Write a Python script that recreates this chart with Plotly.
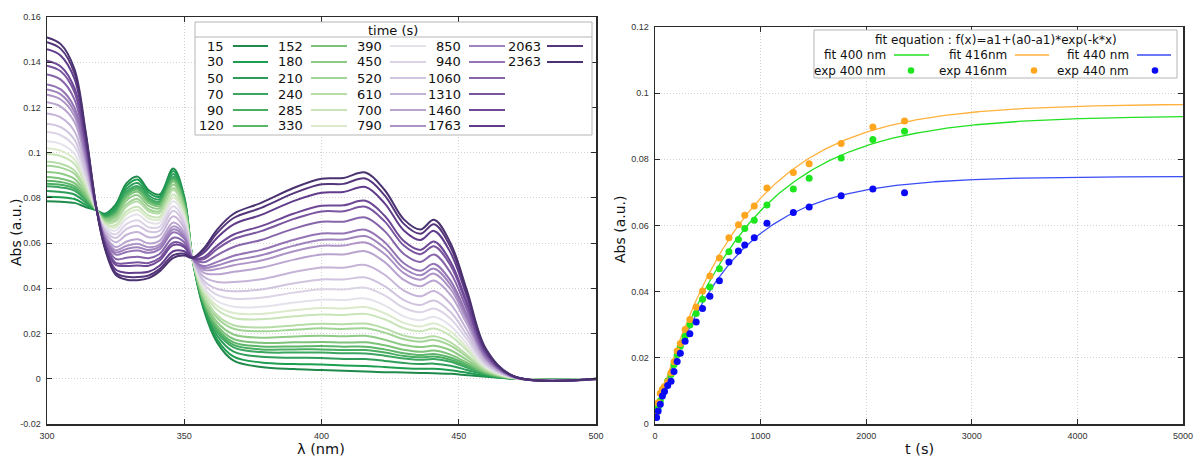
import numpy as np
import plotly.graph_objects as go

W, H = 1195, 458
FONT = "DejaVu Sans"
TICKFONT = "Liberation Sans"

# ---------------- data : left panel (absorbance in units of 1e-3) ----------------
wavelength_nm = [300, 305, 310, 314, 318, 321, 325, 329, 333, 337, 341, 346, 350, 353, 357,
                 362, 368, 378, 390, 400, 408, 416, 423, 430, 436, 441, 447, 453, 460, 470, 500]

times_s = [15, 30, 50, 70, 90, 120, 152, 180, 210, 240, 285, 330, 390, 450, 520, 610,
           700, 790, 850, 940, 1060, 1310, 1460, 1763, 2063, 2363]

spec_15 = [78.5, 78.3, 77.8, 76.0, 74.5, 73.0, 77.0, 86.5, 89.4, 83.5, 81.5, 93.0, 80.5, 53.0, 31.0, 16.0, 8.0, 5.2, 4.3, 3.9, 3.5, 3.2, 2.9, 2.8, 2.6, 2.5, 2.2, 1.6, 0.9, 0.0, -0.5]
spec_30 = [80.5, 80.3, 79.5, 77.0, 74.5, 72.6, 76.1, 85.3, 88.1, 82.4, 80.5, 91.9, 79.8, 53.0, 31.7, 17.4, 9.8, 7.2, 6.5, 6.3, 5.9, 5.7, 5.2, 4.7, 4.4, 4.4, 3.8, 2.7, 1.2, 0.0, -0.5]
spec_50 = [83.0, 82.6, 81.5, 78.1, 74.6, 72.1, 75.1, 83.9, 86.6, 81.1, 79.4, 90.6, 78.9, 53.0, 32.6, 19.1, 12.0, 9.7, 9.3, 9.2, 8.8, 8.7, 7.9, 7.0, 6.5, 6.7, 5.8, 3.9, 1.7, 0.1, -0.5]
spec_70 = [85.1, 84.6, 83.2, 79.1, 74.6, 71.6, 74.2, 82.6, 85.2, 80.0, 78.4, 89.4, 78.1, 53.0, 33.4, 20.6, 13.9, 11.8, 11.6, 11.6, 11.3, 11.2, 10.2, 9.0, 8.4, 8.7, 7.5, 5.0, 2.0, 0.1, -0.5]
spec_90 = [86.3, 85.8, 84.2, 79.7, 74.6, 71.4, 73.7, 81.9, 84.5, 79.3, 77.8, 88.7, 77.7, 53.1, 33.9, 21.4, 15.0, 13.0, 13.0, 13.0, 12.7, 12.7, 11.6, 10.1, 9.5, 9.8, 8.4, 5.6, 2.2, 0.1, -0.4]
spec_120 = [87.6, 87.0, 85.2, 80.3, 74.6, 71.1, 73.1, 81.2, 83.7, 78.6, 77.3, 88.1, 77.3, 53.1, 34.3, 22.3, 16.1, 14.3, 14.3, 14.5, 14.2, 14.2, 13.0, 11.3, 10.5, 11.0, 9.4, 6.3, 2.4, 0.2, -0.4]
spec_152 = [89.2, 88.5, 86.5, 81.0, 74.6, 70.8, 72.4, 80.2, 82.7, 77.8, 76.5, 87.2, 76.7, 53.1, 34.9, 23.4, 17.6, 15.9, 16.1, 16.3, 16.0, 16.1, 14.8, 12.8, 11.9, 12.5, 10.7, 7.1, 2.7, 0.2, -0.4]
spec_180 = [91.5, 90.8, 88.4, 82.1, 74.7, 70.3, 71.5, 78.9, 81.2, 76.5, 75.4, 85.9, 75.8, 53.1, 35.7, 25.0, 19.6, 18.2, 18.7, 19.0, 18.8, 19.0, 17.3, 14.9, 14.0, 14.6, 12.6, 8.3, 3.1, 0.2, -0.4]
spec_210 = [94.2, 93.4, 90.7, 83.4, 74.7, 69.7, 70.3, 77.2, 79.5, 75.0, 74.1, 84.4, 74.9, 53.1, 36.8, 26.9, 22.1, 21.0, 21.7, 22.3, 22.0, 22.3, 20.4, 17.5, 16.4, 17.2, 14.7, 9.7, 3.5, 0.3, -0.4]
spec_240 = [96.0, 95.1, 92.1, 84.2, 74.7, 69.4, 69.5, 76.2, 78.4, 74.1, 73.3, 83.5, 74.2, 53.1, 37.4, 28.1, 23.7, 22.7, 23.6, 24.3, 24.1, 24.4, 22.3, 19.1, 17.9, 18.8, 16.1, 10.6, 3.8, 0.3, -0.4]
spec_285 = [99.5, 98.5, 95.0, 85.9, 74.8, 68.7, 68.0, 74.1, 76.1, 72.2, 71.6, 81.5, 73.0, 53.1, 38.7, 30.5, 26.9, 26.3, 27.6, 28.4, 28.2, 28.7, 26.3, 22.4, 21.0, 22.2, 19.0, 12.5, 4.4, 0.3, -0.4]
spec_330 = [102.0, 100.9, 97.0, 87.0, 74.8, 68.1, 67.0, 72.7, 74.6, 70.9, 70.5, 80.2, 72.1, 53.2, 39.6, 32.2, 29.1, 28.7, 30.3, 31.3, 31.1, 31.7, 29.0, 24.7, 23.1, 24.5, 20.9, 13.7, 4.8, 0.4, -0.3]
spec_390 = [105.1, 103.9, 99.5, 88.5, 74.9, 67.5, 65.6, 70.8, 72.6, 69.2, 69.0, 78.5, 71.0, 53.2, 40.7, 34.4, 31.9, 31.8, 33.7, 35.0, 34.8, 35.5, 32.5, 27.6, 25.9, 27.4, 23.4, 15.3, 5.3, 0.4, -0.3]
spec_450 = [109.1, 107.7, 102.8, 90.3, 74.9, 66.7, 63.9, 68.5, 70.1, 67.0, 67.2, 76.3, 69.5, 53.2, 42.2, 37.1, 35.4, 35.8, 38.1, 39.6, 39.5, 40.3, 36.9, 31.4, 29.4, 31.1, 26.6, 17.4, 6.0, 0.5, -0.3]
spec_520 = [112.8, 111.3, 105.8, 92.1, 75.0, 65.9, 62.3, 66.3, 67.7, 65.1, 65.4, 74.3, 68.2, 53.2, 43.5, 39.7, 38.7, 39.5, 42.2, 43.9, 43.9, 44.8, 41.0, 34.8, 32.6, 34.6, 29.5, 19.3, 6.6, 0.6, -0.3]
spec_610 = [117.3, 115.6, 109.5, 94.2, 75.0, 65.0, 60.4, 63.7, 64.9, 62.6, 63.3, 71.9, 66.6, 53.3, 45.2, 42.8, 42.8, 44.0, 47.2, 49.2, 49.1, 50.3, 46.0, 39.0, 36.5, 38.8, 33.1, 21.6, 7.4, 0.6, -0.2]
spec_700 = [122.3, 120.4, 113.6, 96.5, 75.1, 63.9, 58.3, 60.7, 61.7, 59.9, 61.0, 69.1, 64.8, 53.3, 47.0, 46.2, 47.3, 49.1, 52.7, 55.0, 55.0, 56.4, 51.6, 43.7, 40.9, 43.5, 37.1, 24.2, 8.2, 0.7, -0.2]
spec_790 = [125.6, 123.5, 116.2, 98.1, 75.1, 63.3, 56.9, 58.8, 59.7, 58.2, 59.4, 67.4, 63.6, 53.3, 48.2, 48.5, 50.2, 52.3, 56.4, 58.8, 58.9, 60.3, 55.2, 46.7, 43.8, 46.5, 39.7, 25.9, 8.8, 0.8, -0.2]
spec_850 = [127.9, 125.8, 118.1, 99.2, 75.2, 62.8, 55.9, 57.4, 58.2, 56.9, 58.4, 66.1, 62.8, 53.3, 49.1, 50.1, 52.3, 54.6, 58.9, 61.5, 61.6, 63.1, 57.8, 48.9, 45.8, 48.7, 41.6, 27.1, 9.1, 0.8, -0.2]
spec_940 = [130.2, 128.0, 120.0, 100.2, 75.2, 62.3, 54.9, 56.1, 56.7, 55.7, 57.3, 64.8, 62.0, 53.4, 49.9, 51.7, 54.4, 57.0, 61.5, 64.2, 64.3, 65.9, 60.4, 51.1, 47.8, 50.8, 43.4, 28.3, 9.5, 0.9, -0.1]
spec_1060 = [134.6, 132.3, 123.6, 102.3, 75.3, 61.4, 53.0, 53.5, 54.0, 53.3, 55.2, 62.4, 60.4, 53.4, 51.5, 54.7, 58.3, 61.4, 66.4, 69.4, 69.5, 71.3, 65.3, 55.2, 51.7, 55.0, 46.9, 30.6, 10.3, 0.9, -0.1]
spec_1310 = [138.5, 136.0, 126.8, 104.2, 75.3, 60.6, 51.3, 51.1, 51.5, 51.2, 53.4, 60.3, 59.0, 53.4, 52.9, 57.4, 61.8, 65.3, 70.7, 74.0, 74.1, 76.1, 69.6, 58.9, 55.1, 58.6, 50.1, 32.6, 10.9, 1.0, -0.1]
spec_1460 = [140.7, 138.1, 128.6, 105.2, 75.4, 60.1, 50.4, 49.9, 50.1, 50.0, 52.3, 59.1, 58.2, 53.4, 53.7, 58.9, 63.8, 67.5, 73.1, 76.5, 76.7, 78.7, 72.1, 60.9, 57.0, 60.7, 51.8, 33.7, 11.3, 1.0, -0.1]
spec_1763 = [145.7, 142.9, 132.7, 107.5, 75.4, 59.1, 48.3, 46.9, 46.9, 47.3, 50.0, 56.4, 56.4, 53.5, 55.6, 62.4, 68.3, 72.5, 78.7, 82.3, 82.6, 84.8, 77.6, 65.6, 61.4, 65.4, 55.8, 36.3, 12.1, 1.1, 0.0]
spec_2063 = [148.8, 145.9, 135.2, 109.0, 75.5, 58.5, 46.9, 45.1, 45.0, 45.7, 48.5, 54.7, 55.3, 53.5, 56.7, 64.5, 71.1, 75.6, 82.1, 86.0, 86.2, 88.6, 81.1, 68.5, 64.1, 68.3, 58.3, 37.9, 12.6, 1.1, 0.0]
spec_2363 = [151.0, 148.0, 137.0, 110.0, 75.5, 58.0, 46.0, 43.8, 43.6, 44.5, 47.5, 53.5, 54.5, 53.5, 57.5, 66.0, 73.0, 77.8, 84.5, 88.5, 88.8, 91.2, 83.5, 70.5, 66.0, 70.3, 60.0, 39.0, 13.0, 1.2, 0.0]

curve_colors = ["#1f8a4c", "#1e9e50", "#2e9d59", "#3aa65f", "#4aae62", "#5bb66a",
                "#7cc278", "#8fcb86", "#a3d497", "#b6dca7", "#c9e4b8", "#dbeacb",
                "#e4e2ea", "#dcd4e6", "#d0c4df", "#c5b4d8", "#b9a3cf", "#ad93c6",
                "#a084bd", "#9474b4", "#8765aa", "#7a55a0", "#6e4896", "#613c8a",
                "#55367b", "#4a3170"]

# ---------------- data : right panel ----------------
exp_400 = [0.0035, 0.0050, 0.0070, 0.0090, 0.0110, 0.0130, 0.0150, 0.0180, 0.0210, 0.0235,
           0.0265, 0.0299, 0.0334, 0.0377, 0.0414, 0.0469, 0.0521, 0.0558, 0.0591, 0.0616,
           0.0662, 0.0710, 0.0743, 0.0804, 0.0860, 0.0885]
exp_416 = [0.0035, 0.0064, 0.0093, 0.0105, 0.0113, 0.0128, 0.0155, 0.0188, 0.0221, 0.0243,
           0.0286, 0.0316, 0.0354, 0.0402, 0.0447, 0.0502, 0.0563, 0.0602, 0.0631, 0.0659,
           0.0713, 0.0760, 0.0787, 0.0848, 0.0898, 0.0916]
exp_440 = [0.0020, 0.0039, 0.0060, 0.0085, 0.0098, 0.0116, 0.0129, 0.0159, 0.0189, 0.0214,
           0.0250, 0.0273, 0.0308, 0.0349, 0.0386, 0.0433, 0.0490, 0.0523, 0.0541, 0.0563,
           0.0607, 0.0639, 0.0656, 0.0690, 0.0710, 0.0699]

# fit equation : f(x)=a1+(a0-a1)*exp(-k*x)
fit_a0 = [0.0025, 0.0020, 0.0015]
fit_a1 = [0.0932, 0.0968, 0.0748]
fit_k = [0.00115, 0.00120, 0.00145]
fit_names = ["fit 400 nm", "fit 416nm", "fit 440 nm"]
exp_names = ["exp 400 nm", "exp 416nm", "exp 440 nm"]
line_colors = ["#22e022", "#ffb13d", "#3a4cf5"]
dot_colors = ["#1ee61e", "#ffa51e", "#0a0af5"]

left_xticks = [300, 350, 400, 450, 500]
left_yticks = [-0.02, 0, 0.02, 0.04, 0.06, 0.08, 0.1, 0.12, 0.14, 0.16]
left_yticktext = ["-0.02", "0", "0.02", "0.04", "0.06", "0.08", "0.1", "0.12", "0.14", "0.16"]
right_xticks = [0, 1000, 2000, 3000, 4000, 5000]
right_yticks = [0, 0.02, 0.04, 0.06, 0.08, 0.1, 0.12]
right_yticktext = ["0", "0.02", "0.04", "0.06", "0.08", "0.1", "0.12"]

spectra = [spec_15, spec_30, spec_50, spec_70, spec_90, spec_120, spec_152, spec_180,
           spec_210, spec_240, spec_285, spec_330, spec_390, spec_450, spec_520, spec_610,
           spec_700, spec_790, spec_850, spec_940, spec_1060, spec_1310, spec_1460,
           spec_1763, spec_2063, spec_2363]


def fx(x):
    return x / W


def fy(y):
    return 1 - y / H


fig = go.Figure()

for t, spec, col in zip(times_s, spectra, curve_colors):
    fig.add_trace(go.Scatter(
        x=wavelength_nm, y=[v * 1e-3 for v in spec], mode="lines", name=str(t),
        line=dict(color=col, width=2, shape="spline", smoothing=1.0),
        xaxis="x", yaxis="y", showlegend=False))

t_fit = np.linspace(0, 5000, 501)
for a0, a1, k, col, nm in zip(fit_a0, fit_a1, fit_k, line_colors, fit_names):
    fig.add_trace(go.Scatter(
        x=t_fit, y=a1 + (a0 - a1) * np.exp(-k * t_fit), mode="lines", name=nm,
        line=dict(color=col, width=1.3), xaxis="x2", yaxis="y2", showlegend=False))

for vals, col, nm in zip([exp_400, exp_416, exp_440], dot_colors, exp_names):
    fig.add_trace(go.Scatter(
        x=times_s, y=vals, mode="markers", name=nm,
        marker=dict(color=col, size=7, line=dict(width=0)),
        xaxis="x2", yaxis="y2", showlegend=False))

axis_common = dict(showline=True, linecolor="#2a2a2a", linewidth=1.5, mirror="ticks",
                   ticks="inside", ticklen=5, tickcolor="#2a2a2a", tickwidth=1,
                   showgrid=True, gridcolor="#d2d2d2", griddash="1px,2px", gridwidth=1,
                   zeroline=False, automargin=False, ticklabelstandoff=3,
                   tickfont=dict(family=TICKFONT, size=9, color="#333333"))

shapes = []
annotations = []

# ---- left legend (custom, column-major like the original) ----
shapes.append(dict(type="rect", xref="paper", yref="paper", x0=fx(195), x1=fx(592),
                   y0=fy(135), y1=fy(22), line=dict(color="#b5b5b5", width=1),
                   fillcolor="white", layer="above"))
shapes.append(dict(type="line", xref="paper", yref="paper", x0=fx(195), x1=fx(592),
                   y0=fy(37), y1=fy(37), line=dict(color="#b5b5b5", width=1), layer="above"))
annotations.append(dict(text="time (s)", xref="paper", yref="paper", x=fx(393), y=fy(30),
                        xanchor="center", yanchor="middle", showarrow=False,
                        font=dict(family=FONT, size=13, color="#111")))
row_y = [46, 62, 78, 94, 110, 126]
col_text_right = [226, 304.5, 383.5, 463, 542.5]
col_line_x0 = [233, 311, 390, 469, 547]
col_line_x1 = [268, 347, 426, 505, 583]
for i, (t, col) in enumerate(zip(times_s, curve_colors)):
    c, r = divmod(i, 6)
    annotations.append(dict(text=str(t), xref="paper", yref="paper",
                            x=fx(col_text_right[c]), y=fy(row_y[r]),
                            xanchor="right", yanchor="middle", showarrow=False,
                            font=dict(family=FONT, size=13, color="#111")))
    shapes.append(dict(type="line", xref="paper", yref="paper",
                       x0=fx(col_line_x0[c]), x1=fx(col_line_x1[c]),
                       y0=fy(row_y[r]), y1=fy(row_y[r]),
                       line=dict(color=col, width=2), layer="above"))

# ---- right legend ----
shapes.append(dict(type="rect", xref="paper", yref="paper", x0=fx(814), x1=fx(1177),
                   y0=fy(78), y1=fy(30), line=dict(color="#b5b5b5", width=1),
                   fillcolor="white", layer="above"))
annotations.append(dict(text="fit equation : f(x)=a1+(a0-a1)*exp(-k*x)", xref="paper",
                        yref="paper", x=fx(996), y=fy(40), xanchor="center",
                        yanchor="middle", showarrow=False,
                        font=dict(family=FONT, size=12, color="#111")))
r_text_right = [888, 1009, 1131]
r_line_x0 = [894, 1015, 1137]
r_line_x1 = [929, 1049, 1171]
r_dot_x = [911, 1034, 1155]
for j in range(3):
    annotations.append(dict(text=fit_names[j], xref="paper", yref="paper",
                            x=fx(r_text_right[j]), y=fy(55), xanchor="right",
                            yanchor="middle", showarrow=False,
                            font=dict(family=FONT, size=12, color="#111")))
    shapes.append(dict(type="line", xref="paper", yref="paper", x0=fx(r_line_x0[j]),
                       x1=fx(r_line_x1[j]), y0=fy(55), y1=fy(55),
                       line=dict(color=line_colors[j], width=1.3), layer="above"))
    annotations.append(dict(text=exp_names[j], xref="paper", yref="paper",
                            x=fx(r_text_right[j]), y=fy(70.5), xanchor="right",
                            yanchor="middle", showarrow=False,
                            font=dict(family=FONT, size=12, color="#111")))
    shapes.append(dict(type="circle", xref="paper", yref="paper",
                       x0=fx(r_dot_x[j] - 3.3), x1=fx(r_dot_x[j] + 3.3),
                       y0=fy(70.5 + 3.3), y1=fy(70.5 - 3.3),
                       fillcolor=dot_colors[j], line=dict(width=0), layer="above"))

# ---- axis titles ----
annotations += [
    dict(text="Abs (a.u.)", xref="paper", yref="paper", x=fx(16), y=fy(233),
         textangle=-90, xanchor="center", yanchor="middle", showarrow=False,
         font=dict(family=FONT, size=14, color="#111")),
    dict(text="λ (nm)", xref="paper", yref="paper", x=fx(321), y=fy(449),
         xanchor="center", yanchor="middle", showarrow=False,
         font=dict(family=FONT, size=14.5, color="#111")),
    dict(text="Abs (a.u.)", xref="paper", yref="paper", x=fx(620), y=fy(230),
         textangle=-90, xanchor="center", yanchor="middle", showarrow=False,
         font=dict(family=FONT, size=14, color="#111")),
    dict(text="t (s)", xref="paper", yref="paper", x=fx(919), y=fy(449),
         xanchor="center", yanchor="middle", showarrow=False,
         font=dict(family=FONT, size=14.5, color="#111")),
]

fig.update_layout(
    width=W, height=H,
    margin=dict(l=0, r=0, t=0, b=0),
    paper_bgcolor="white", plot_bgcolor="white",
    font=dict(family=FONT),
    showlegend=False,
    xaxis=dict(domain=[fx(47), fx(596)], range=[300, 500], tickvals=left_xticks,
               ticktext=[str(v) for v in left_xticks], anchor="y", **axis_common),
    yaxis=dict(domain=[fy(424), fy(17)], range=[-0.02, 0.16], tickvals=left_yticks,
               ticktext=left_yticktext, anchor="x", **axis_common),
    xaxis2=dict(domain=[fx(655), fx(1183)], range=[0, 5000], tickvals=right_xticks,
                ticktext=[str(v) for v in right_xticks], anchor="y2", **axis_common),
    yaxis2=dict(domain=[fy(424), fy(27)], range=[0, 0.12], tickvals=right_yticks,
                ticktext=right_yticktext, anchor="x2", **axis_common),
    shapes=shapes,
    annotations=annotations,
)

fig.write_html(
    "out.html",
    config={"displayModeBar": False, "staticPlot": True},
    post_script="document.body.style.margin='0';document.body.style.padding='0';"
                "document.documentElement.style.overflow='hidden';",
)
